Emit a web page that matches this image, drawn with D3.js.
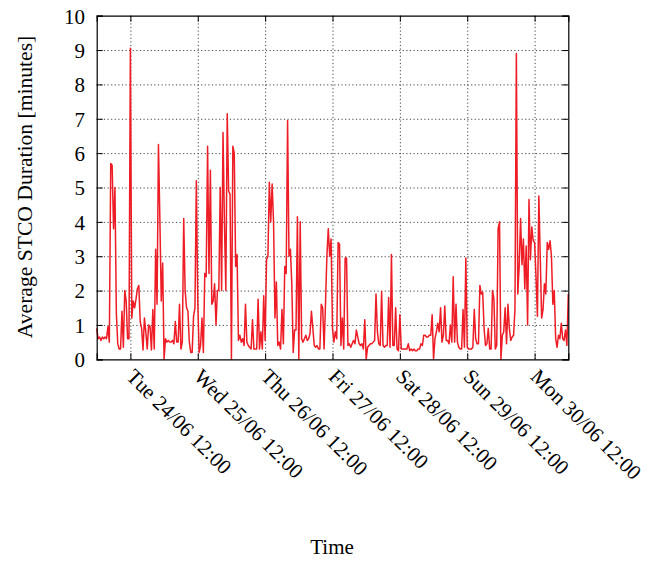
<!DOCTYPE html>
<html><head><meta charset="utf-8">
<script src="https://cdn.jsdelivr.net/npm/d3@7"></script>
<style>body{margin:0;background:#fff}svg{display:block}</style>
</head><body><svg id="c" width="665" height="563"></svg>
<script>
// ---- data (30-minute samples starting Tue 24/06/2014 00:00) ----
const startISO = "2014-06-24T00:00:00Z";
const stepMinutes = 30;
const tue24 = [0.9,0.6,0.65,0.55,0.65,0.6,0.65,0.6,0.95,0.5,
 5.7,5.65,3.8,5.0,1.35,0.45,0.3,0.3,1.4,0.35,
 2.0,1.7,0.6,0.6,9.05,1.2,1.7,1.5,1.75,2.05,
 2.15,1.1,0.9,0.27,1.2,0.8,0.3,1.0,0.95,0.27,
 1.45,0.3,3.2,1.6,6.25,4.1,1.7,2.8];
const wed25 = [0,0.6,0.5,0.55,0.5,0.5,0.55,0.45,1.1,0.5,
 0.5,1.6,0.3,0.5,4.1,2.0,1.5,1.4,0.5,0.2,
 0.2,1.25,1.5,5.2,1.7,0.2,0.4,1.2,0.2,2.5,
 2.4,6.2,2.5,5.5,1.6,1.7,2.2,1.0,2.0,2.0,
 5.0,2.0,6.6,4.0,2.0,7.15,4.9,4.8];
const thu26 = [0,6.2,6.0,2.7,3.05,0.55,0.7,0.5,0.6,0.4,
 1.6,0.5,0.4,0.35,0.3,1.15,0.3,0.3,0.3,1.75,
 0.3,0.8,0.3,1.85,0.55,2.9,3.0,5.15,4.0,5.1,
 4.0,1.2,2.25,0.4,0.5,0.3,1.45,0.45,2.7,2.5,
 6.95,3.0,3.2,2.2,0.2,0.85,0.85,4.15];
const fri27 = [0,4.0,0.6,0.5,0.6,0.7,0.55,0.6,0.75,1.4,
 0.9,0.4,0.35,0.4,0.3,0.3,1.6,1.5,0.3,1.6,
 3.0,3.8,3.0,3.5,0.9,0.5,0.8,0.6,3.4,3.35,
 0.4,1.2,0.3,2.95,2.95,0.4,0.45,0.35,0.45,0.55,
 0.45,0.85,0.65,0.45,0.4,0.45,0.3,1.15];
const sat28 = [0,0.35,0.4,0.45,0.45,0.5,0.55,1.9,0.8,0.45,
 0.4,1.97,0.4,0.35,0.4,0.4,1.8,0.35,3.05,0.4,
 0.4,1.5,0.3,0.25,1.3,0.3,0.3,0.3,0.3,0.3,
 0.45,0.25,0.3,0.25,0.3,0.25,0.25,0.3,0.3,0.45,
 0.4,0.7,0.7,0.65,0.65,0.7,0.7,1.3];
const sun29 = [0,0.6,0.8,1.05,0.8,1.5,0.5,0.7,1.55,0.55,
 0.55,0.45,1.0,0.5,2.4,0.5,1.6,0.5,0.35,0.3,
 0.3,1.45,0.35,2.95,0.35,0.3,0.3,0.3,0.35,1.45,
 0.6,0.45,0.45,2.15,1.9,1.95,0.9,0.4,0.45,0.9,
 0.3,0.3,2.0,1.75,0.3,0.4,3.8,4.0];
const mon30 = [0,0.7,0.8,1.5,0.45,1.6,0.9,0.55,0.65,0.7,
 1.45,8.9,1.9,2.7,4.1,2.75,3.5,2.05,3.3,1.0,
 4.65,2.9,3.85,3.45,3.4,2.4,1.25,4.75,3.0,1.2,
 1.45,2.2,1.9,3.4,3.2,3.45,3.0,1.6,2.0,0.6,
 0.35,0.7,0.6,1.05,0.6,0.55,0.85,0.4];
const tue01 = [1.9];
const xTickLabels = ["Tue 24/06 12:00","Wed 25/06 12:00","Thu 26/06 12:00",
  "Fri 27/06 12:00","Sat 28/06 12:00","Sun 29/06 12:00","Mon 30/06 12:00"];
const yTickValues = [0,1,2,3,4,5,6,7,8,9,10];
const yLabel = "Average STCO Duration [minutes]";
const xLabel = "Time";

// ---- build ----
const values = [].concat(tue24, wed25, thu26, fri27, sat28, sun29, mon30, tue01);
const start = new Date(startISO);
const DAY = 86400000;
const data = values.map((v, i) => ({t: new Date(+start + i * stepMinutes * 60000), v}));
const tickDates = xTickLabels.map((_, i) => new Date(+start + (i + 0.5) * DAY));

const L = 96.7, R = 568.3, T = 15.7, B = 359.3;
const FONT = "'Liberation Serif','Times New Roman',serif";
const svg = d3.select("#c");

const x = d3.scaleUtc().domain([start, new Date(+start + 7 * DAY)]).range([L, R]);
const y = d3.scaleLinear().domain([0, 10]).range([B, T]);

// grid
const gridY = svg.append("g").attr("transform", `translate(${L},0)`)
  .call(d3.axisLeft(y).tickValues(yTickValues.slice(1, -1)).tickSize(-(R - L)).tickFormat(""));
const gridX = svg.append("g").attr("transform", `translate(0,${B})`)
  .call(d3.axisBottom(x).tickValues(tickDates).tickSize(-(B - T)).tickFormat(""));
[gridY, gridX].forEach(g => {
  g.select(".domain").remove();
  g.selectAll("line").attr("stroke", "#444").attr("stroke-width", 1)
    .attr("stroke-dasharray", "1.2,2.4");
});

// line
svg.append("path").datum(data)
  .attr("fill", "none").attr("stroke", "#ee1c25").attr("stroke-width", 1.5)
  .attr("stroke-linejoin", "round")
  .attr("d", d3.line().x(d => x(d.t)).y(d => y(d.v)));

// axes (ticks inward, mirrored)
const tk = 6;
const axL = svg.append("g").attr("transform", `translate(${L},0)`)
  .call(d3.axisLeft(y).tickValues(yTickValues).tickSize(-tk).tickPadding(L - 85).tickFormat(d3.format("d")));
const axR = svg.append("g").attr("transform", `translate(${R},0)`)
  .call(d3.axisRight(y).tickValues(yTickValues).tickSize(-tk).tickFormat(""));
const axB = svg.append("g").attr("transform", `translate(0,${B})`)
  .call(d3.axisBottom(x).tickValues(tickDates).tickSize(-tk).tickFormat((d, i) => xTickLabels[i]));
const axT = svg.append("g").attr("transform", `translate(0,${T})`)
  .call(d3.axisTop(x).tickValues(tickDates).tickSize(-tk).tickFormat(""));
[axL, axR, axB, axT].forEach(g => {
  g.select(".domain").attr("stroke", "#000").attr("stroke-width", 1.2);
  g.selectAll(".tick line").attr("stroke", "#000").attr("stroke-width", 1);
  g.selectAll("text").attr("font-family", FONT).attr("font-size", 21).attr("fill", "#000");
});
axL.selectAll("text").attr("dy", "0.35em");
axB.selectAll("text")
  .attr("x", 0).attr("y", 0).attr("dy", "0.71em")
  .attr("text-anchor", "start")
  .attr("transform", "translate(5,8) rotate(45)");

// labels
svg.append("text").attr("x", 332).attr("y", 554).attr("text-anchor", "middle")
  .attr("font-family", FONT).attr("font-size", 21).text(xLabel);
svg.append("text").attr("transform", "translate(32,187) rotate(-90)").attr("text-anchor", "middle")
  .attr("font-family", FONT).attr("font-size", 21.6).text(yLabel);
</script></body></html>
